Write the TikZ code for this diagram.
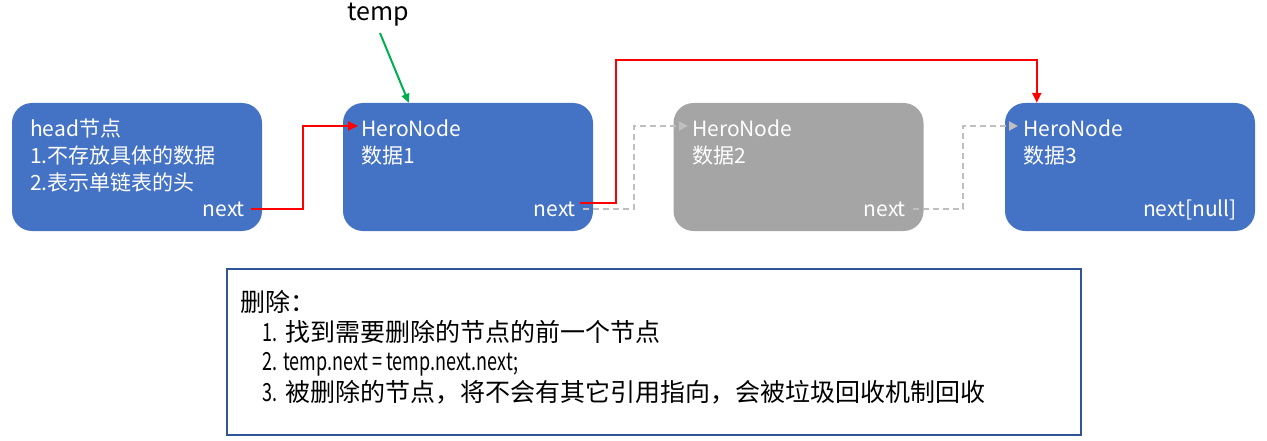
\documentclass[tikz,border=0pt]{standalone}
\usepackage{fontspec}
\setmainfont{Noto Sans CJK SC}
\newfontfamily\narrowlatin[FakeStretch=0.72]{Noto Sans CJK SC}
\usetikzlibrary{arrows.meta}
\definecolor{nodeblue}{HTML}{4472C4}
\definecolor{nodegray}{HTML}{A5A5A5}
\definecolor{dashgray}{HTML}{BFBFBF}
\definecolor{linkred}{HTML}{FF0000}
\definecolor{tempgreen}{HTML}{00B050}
\definecolor{boxline}{HTML}{2F5597}
\tikzset{
  x=1pt, y=-1pt,
  listnode/.style={rounded corners=20pt, minimum width=250pt, minimum height=128pt, inner sep=0pt},
  wt/.style={text=white, inner sep=0pt, font=\fontsize{21}{26}\selectfont},
  bt/.style={text=black, inner sep=0pt, font=\fontsize{25}{30}\selectfont},
  redlink/.style={draw=linkred, line width=2pt, -{Triangle[length=10pt,width=9pt]}},
  graylink/.style={draw=dashgray, line width=2pt, dash pattern=on 6pt off 4pt, -{Triangle[length=9pt,width=9pt]}},
}
\newcommand\nlat[1]{{\narrowlatin\fontsize{25}{30}\selectfont #1}}
\begin{document}
\begin{tikzpicture}
\useasboundingbox (0,0) rectangle (1267,441);
% nodes
\node[listnode, fill=nodeblue] (h) at (137,167) {};
\node[listnode, fill=nodeblue] (n1) at (468,167) {};
\node[listnode, fill=nodegray] (n2) at (798.5,167) {};
\node[listnode, fill=nodeblue] (n3) at (1130,167) {};
% texts in head
\node[wt, anchor=base west] (h1) at (30,137) {head节点};
\node[wt, anchor=base west] (h2) at (30,163.5) {1.不存放具体的数据};
\node[wt, anchor=base west] (h3) at (30,190) {2.表示单链表的头};
\node[wt, anchor=base east] (hn) at (245,216) {next};
% node1
\node[wt, anchor=base west] (a1) at (361,137) {HeroNode};
\node[wt, anchor=base west] (a2) at (361,163.5) {数据1};
\node[wt, anchor=base east] (an) at (576,216) {next};
% node2
\node[wt, anchor=base west] (b1) at (692,137) {HeroNode};
\node[wt, anchor=base west] (b2) at (692,163.5) {数据2};
\node[wt, anchor=base east] (bn) at (906,216) {next};
% node3
\node[wt, anchor=base west] (c1) at (1023,137) {HeroNode};
\node[wt, anchor=base west] (c2) at (1023,163.5) {数据3};
\node[wt, anchor=base east] (cn) at (1237,216) {next[null]};
% temp
\node[inner sep=0pt, font=\fontsize{25}{30}\selectfont, anchor=base] (temp) at (378,21) {temp};
\coordinate (tstart) at (380,33);
\draw[draw=tempgreen, line width=2pt, -{Triangle[length=9pt,width=8pt]}] (tstart) -- ([xshift=66pt]n1.north west);
% connectors
\coordinate (r1) at (303,126);
\draw[redlink] ([xshift=6pt,yshift=0pt]hn.east) -| (r1) -- ([xshift=-3pt]a1.west |- r1);
\coordinate (g1) at (634,126);
\draw[graylink] ([xshift=7pt,yshift=-0.5pt]an.east) -| (g1) -- ([xshift=-4pt]b1.west |- g1);
\coordinate (g2) at (963,126);
\draw[graylink] ([xshift=7pt,yshift=-0.5pt]bn.east) -| (g2) -- ([xshift=-5pt]c1.west |- g2);
\coordinate (r2) at (616,60);
\draw[redlink] ([xshift=4pt,yshift=5.5pt]an.east) -| (r2) -| ([xshift=32pt]n3.north west);
% info box
\node[draw=boxline, line width=2pt, minimum width=854pt, minimum height=166pt, inner sep=0pt] (info) at (654,352) {};
\node[bt, anchor=base west] (i0) at (240,311) {删除：};
\node[bt, anchor=base west] (i1) at (262,341) {\nlat{1.}\hspace{8pt}找到需要删除的节点的前一个节点};
\node[bt, anchor=base west] (i2) at (262,370) {\nlat{2.\hspace{6pt}temp.next = temp.next.next;}};
\node[bt, anchor=base west] (i3) at (262,401) {\nlat{3.}\hspace{8pt}被删除的节点，将不会有其它引用指向，会被垃圾回收机制回收};
\end{tikzpicture}
\end{document}
